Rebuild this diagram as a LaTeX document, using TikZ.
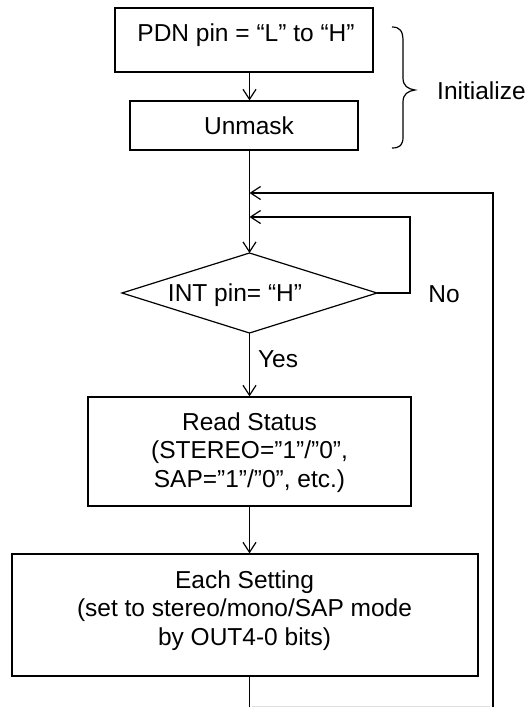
\documentclass[tikz,border=0pt]{standalone}
\usepackage{fontspec}
\setmainfont{Liberation Sans}
\usetikzlibrary{arrows.meta}
\begin{document}
\begin{tikzpicture}[x=1pt,y=-1pt,
  every node/.style={font=\fontsize{24.5}{28.5}\selectfont},
  box/.style={draw, line width=1.2pt, rectangle, inner sep=0pt},
  dia/.style={draw, line width=1.2pt},
  flow/.style={line width=1.2pt},
  arr/.style={flow, -{Straight Barb[length=10pt,width=13pt,line width=1.2pt]}},
  txt/.style={align=center, inner sep=0pt, anchor=base}]
\useasboundingbox (0,0) rectangle (529,707);
% boxes
\node[box, minimum width=258pt, minimum height=64pt] (pdn) at (244,40) {};
\node[txt] (pdnt) at (246,41) {PDN pin = “L” to “H”};
\node[box, minimum width=228pt, minimum height=49pt] (unm) at (244,125.5) {};
\node[txt] (unmt) at (249,134) {Unmask};
% brace
\coordinate (b0) at (392,27);
\draw[flow] (b0) .. controls (400,27) and (403,31) .. (403,41) -- (403,78)
  .. controls (403,86) and (408,89) .. (415,90)
  .. controls (408,91) and (403,94) .. (403,102) -- (403,137)
  .. controls (403,145) and (400,148) .. (392,148);
\node[txt, anchor=base west] (init) at (437,99) {Initialize};
% diamond
\coordinate (dT) at (249.5,253);
\coordinate (dB) at (249.5,333);
\coordinate (dL) at (122,293);
\coordinate (dR) at (377,293);
\draw[dia] (dT) -- (dR) -- (dB) -- (dL) -- cycle;
\node[txt] (intt) at (235,301) {INT pin= “H”};
\node[txt] (no) at (444,302) {No};
\node[txt] (yes) at (278,367) {Yes};
% read status
\node[box, minimum width=323pt, minimum height=109pt] (rs) at (249.5,451.5) {};
\node[txt] (rst) at (249.5,487) {Read Status\\(STEREO=”1”/”0”,\\SAP=”1”/”0”, etc.)};
% each setting
\node[box, minimum width=466pt, minimum height=122pt] (es) at (245,615) {};
\node[txt] (est) at (244.5,645) {Each Setting\\(set to stereo/mono/SAP mode\\by OUT4-0 bits)};
% connectors
\draw[arr] (pdn.south -| dT) -- (unm.north -| dT);
\draw[arr] (unm.south -| dT) -- (dT);
\draw[arr] (dB) -- (rs.north -| dT);
\draw[arr] (rs.south -| dT) -- (es.north -| dT);
\coordinate (bot) at (249.5,707);
\coordinate (rb) at (493,707);
\coordinate (rt) at (493,193);
\coordinate (j1) at (249.5,193);
\coordinate (j2) at (249.5,217);
\coordinate (ir) at (410,217);
\draw[flow] (es.south -| dT) -- (bot);
\draw[arr] (rb) -- (rt) -- (j1);
\draw[arr] (dR) -- (ir |- dR) -- (ir) -- (j2);
\draw[black!12, line width=1pt] (252,706) -- (490,706);
\end{tikzpicture}
\end{document}
